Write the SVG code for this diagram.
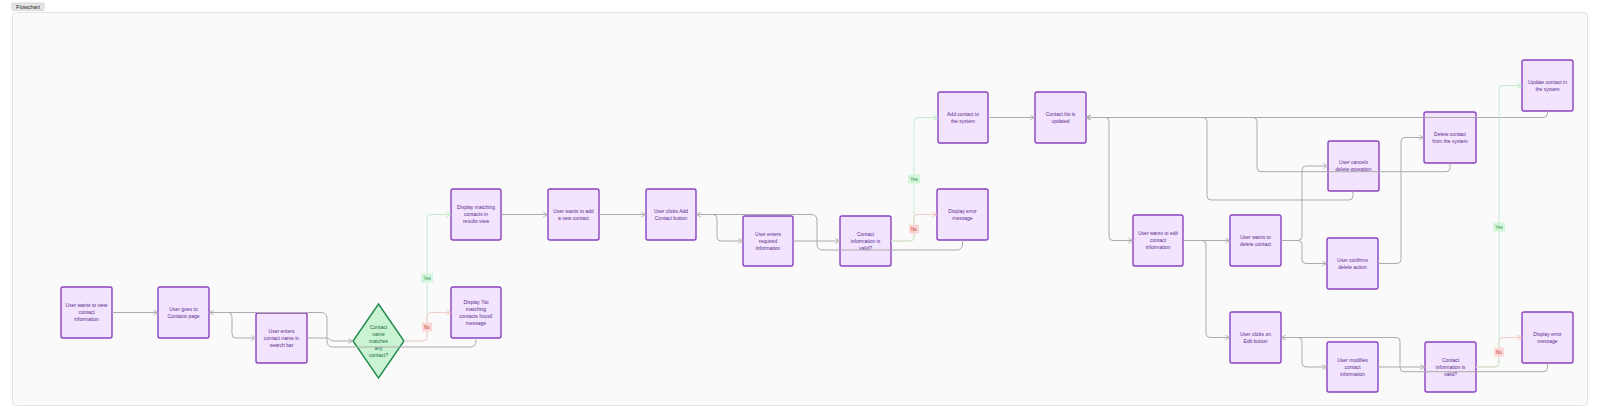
<svg xmlns="http://www.w3.org/2000/svg" width="1599" height="418" viewBox="0 0 1599 418">
<style>
.nd{fill:#f2e4ff;stroke:#8a42bf;stroke-width:1.4}
.dm{fill:#c9f3d2;stroke:#1f8a4c;stroke-width:1.4}
.t{font-family:"Liberation Sans",Arial,sans-serif;font-size:5px;fill:#5a2a8a;text-anchor:middle}
.td{font-family:"Liberation Sans",Arial,sans-serif;font-size:5px;fill:#1a6b3a;text-anchor:middle}
.e{fill:none;stroke:#ababab;stroke-width:1;marker-end:url(#ag)}
.y{fill:none;stroke:#c4ebcd;stroke-width:1;marker-end:url(#ay)}
.n{fill:none;stroke:#f6cdcd;stroke-width:1;marker-end:url(#an)}
.ly{fill:#d3f6da}
.ln{fill:#fbd6d6}
.lt{font-family:"Liberation Sans",Arial,sans-serif;font-size:4.5px;text-anchor:middle}
</style>
<defs>
<marker id="ag" viewBox="0 0 10 10" refX="9" refY="5" markerWidth="6" markerHeight="6" markerUnits="userSpaceOnUse" orient="auto"><path d="M1,1 L9,5 L1,9" fill="none" stroke="#ababab" stroke-width="1.4"/></marker>
<marker id="ay" viewBox="0 0 10 10" refX="9" refY="5" markerWidth="6" markerHeight="6" markerUnits="userSpaceOnUse" orient="auto"><path d="M1,1 L9,5 L1,9" fill="none" stroke="#b6e6c1" stroke-width="1.4"/></marker>
<marker id="an" viewBox="0 0 10 10" refX="9" refY="5" markerWidth="6" markerHeight="6" markerUnits="userSpaceOnUse" orient="auto"><path d="M1,1 L9,5 L1,9" fill="none" stroke="#f3c0c0" stroke-width="1.4"/></marker>
</defs>
<rect width="1599" height="418" fill="#ffffff"/>
<rect x="12.5" y="12.5" width="1575" height="393" rx="4" fill="#fafafa" stroke="#e2e2e2"/>
<rect x="12" y="3" width="32" height="7.5" rx="1" fill="#e6e6e6" stroke="#c6c6c6" stroke-width="0.6"/>
<text x="28" y="8.8" font-family="Liberation Sans,Arial,sans-serif" font-size="5.5" fill="#222" text-anchor="middle">Flowchart</text>

<g id="n1"><rect class="nd" x="61" y="287" width="51" height="51" rx="2"/><text class="t" x="86.5" y="307.3">User wants to view</text><text class="t" x="86.5" y="314.3">contact</text><text class="t" x="86.5" y="321.3">information</text></g>
<g id="n2"><rect class="nd" x="158" y="287" width="51" height="51" rx="2"/><text class="t" x="183.5" y="310.8">User goes to</text><text class="t" x="183.5" y="317.8">Contacts page</text></g>
<g id="n3"><rect class="nd" x="256" y="313" width="51" height="50" rx="2"/><text class="t" x="281.5" y="332.8">User enters</text><text class="t" x="281.5" y="339.8">contact name in</text><text class="t" x="281.5" y="346.8">search bar</text></g>
<g id="d1"><polygon class="dm" points="378.5,304 404,341 378.5,378 353,341"/><text class="td" x="378.5" y="328.8">Contact</text><text class="td" x="378.5" y="335.8">name</text><text class="td" x="378.5" y="342.8">matches</text><text class="td" x="378.5" y="349.8">any</text><text class="td" x="378.5" y="356.8">contact?</text></g>
<g id="n5"><rect class="nd" x="451" y="287" width="50" height="51" rx="2"/><text class="t" x="476" y="303.8">Display 'No</text><text class="t" x="476" y="310.8">matching</text><text class="t" x="476" y="317.8">contacts found'</text><text class="t" x="476" y="324.8">message</text></g>
<g id="n6"><rect class="nd" x="451" y="189" width="50" height="51" rx="2"/><text class="t" x="476" y="209.3">Display matching</text><text class="t" x="476" y="216.3">contacts in</text><text class="t" x="476" y="223.3">results view</text></g>
<g id="n7"><rect class="nd" x="548" y="189" width="51" height="51" rx="2"/><text class="t" x="573.5" y="212.8">User wants to add</text><text class="t" x="573.5" y="219.8">a new contact</text></g>
<g id="n8"><rect class="nd" x="646" y="189" width="50" height="51" rx="2"/><text class="t" x="671" y="212.8">User clicks Add</text><text class="t" x="671" y="219.8">Contact button</text></g>
<g id="n9"><rect class="nd" x="743" y="216" width="50" height="50" rx="2"/><text class="t" x="768" y="235.8">User enters</text><text class="t" x="768" y="242.8">required</text><text class="t" x="768" y="249.8">information</text></g>
<g id="n10"><rect class="nd" x="840" y="216" width="51" height="50" rx="2"/><text class="t" x="865.5" y="235.8">Contact</text><text class="t" x="865.5" y="242.8">information is</text><text class="t" x="865.5" y="249.8">valid?</text></g>
<g id="n11"><rect class="nd" x="937" y="189" width="51" height="51" rx="2"/><text class="t" x="962.5" y="212.8">Display error</text><text class="t" x="962.5" y="219.8">message</text></g>
<g id="n12"><rect class="nd" x="938" y="92" width="50" height="51" rx="2"/><text class="t" x="963" y="115.8">Add contact to</text><text class="t" x="963" y="122.8">the system</text></g>
<g id="n13"><rect class="nd" x="1035" y="92" width="51" height="51" rx="2"/><text class="t" x="1060.5" y="115.8">Contact list is</text><text class="t" x="1060.5" y="122.8">updated</text></g>
<g id="n14"><rect class="nd" x="1133" y="215" width="50" height="51" rx="2"/><text class="t" x="1158" y="235.3">User wants to edit</text><text class="t" x="1158" y="242.3">contact</text><text class="t" x="1158" y="249.3">information</text></g>
<g id="n15"><rect class="nd" x="1230" y="215" width="51" height="51" rx="2"/><text class="t" x="1255.5" y="238.8">User wants to</text><text class="t" x="1255.5" y="245.8">delete contact</text></g>
<g id="n16"><rect class="nd" x="1327" y="238" width="51" height="51" rx="2"/><text class="t" x="1352.5" y="261.8">User confirms</text><text class="t" x="1352.5" y="268.8">delete action</text></g>
<g id="n17"><rect class="nd" x="1328" y="141" width="51" height="50" rx="2"/><text class="t" x="1353.5" y="164.3">User cancels</text><text class="t" x="1353.5" y="171.3">delete operation</text></g>
<g id="n18"><rect class="nd" x="1424" y="112" width="52" height="51" rx="2"/><text class="t" x="1450" y="135.8">Delete contact</text><text class="t" x="1450" y="142.8">from the system</text></g>
<g id="n19"><rect class="nd" x="1522" y="60" width="51" height="51" rx="2"/><text class="t" x="1547.5" y="83.8">Update contact in</text><text class="t" x="1547.5" y="90.8">the system</text></g>
<g id="n20"><rect class="nd" x="1230" y="312" width="51" height="51" rx="2"/><text class="t" x="1255.5" y="335.8">User clicks on</text><text class="t" x="1255.5" y="342.8">Edit button</text></g>
<g id="n21"><rect class="nd" x="1327" y="342" width="51" height="50" rx="2"/><text class="t" x="1352.5" y="361.8">User modifies</text><text class="t" x="1352.5" y="368.8">contact</text><text class="t" x="1352.5" y="375.8">information</text></g>
<g id="n22"><rect class="nd" x="1425" y="342" width="51" height="50" rx="2"/><text class="t" x="1450.5" y="361.8">Contact</text><text class="t" x="1450.5" y="368.8">information is</text><text class="t" x="1450.5" y="375.8">valid?</text></g>
<g id="n23"><rect class="nd" x="1522" y="312" width="51" height="51" rx="2"/><text class="t" x="1547.5" y="335.8">Display error</text><text class="t" x="1547.5" y="342.8">message</text></g>

<g id="connectors">
<path class="e" d="M112,312.5 H158"/>
<path class="e" d="M209,312.5 H228 Q232,312.5 232,316.5 V334 Q232,338 236,338 H256"/>
<path class="e" d="M476,338 V341 Q476,347 470,347 H333 Q327,347 327,341 V318.5 Q327,312.5 321,312.5 H209"/>
<path class="e" d="M307,338 H326 C330,338 330,341 334,341 H353"/>
<path class="y" d="M404,341 H423 Q427,341 427,337 V218.5 Q427,214.5 431,214.5 H451"/>
<path class="n" d="M404,341 H423 Q427,341 427,337 V316.5 Q427,312.5 431,312.5 H451"/>
<path class="e" d="M501,214.5 H548"/>
<path class="e" d="M599,214.5 H646"/>
<path class="e" d="M696,214.5 H713 Q717,214.5 717,218.5 V237 Q717,241 721,241 H743"/>
<path class="e" d="M962.5,240 V244 Q962.5,250 956.5,250 H823 Q817,250 817,244 V220.5 Q817,214.5 811,214.5 H696"/>
<path class="e" d="M793,241 H840"/>
<path class="n" d="M891,241 H910 Q914,241 914,237 V218.5 Q914,214.5 918,214.5 H937"/>
<path class="y" d="M891,241 H910 Q914,241 914,237 V121.5 Q914,117.5 918,117.5 H938"/>
<path class="e" d="M988,117.5 H1035"/>
<path class="e" d="M1086,117.5 H1105 Q1109,117.5 1109,121.5 V236.5 Q1109,240.5 1113,240.5 H1133"/>
<path class="e" d="M1547.5,111 V113.5 Q1547.5,117.5 1543.5,117.5 H1086"/>
<path class="e" d="M1450,163 V167.7 Q1450,171.7 1446,171.7 H1261 Q1257,171.7 1257,167.7 V121.5 Q1257,117.5 1253,117.5 H1086"/>
<path class="e" d="M1353,191 V196 Q1353,200 1349,200 H1211 Q1207,200 1207,196 V121.5 Q1207,117.5 1203,117.5 H1086"/>
<path class="e" d="M1183,240.5 H1230"/>
<path class="e" d="M1183,240.5 H1202 Q1206,240.5 1206,244.5 V333.5 Q1206,337.5 1210,337.5 H1230"/>
<path class="e" d="M1281,240.5 H1298 Q1302,240.5 1302,236.5 V170 Q1302,166 1306,166 H1328"/>
<path class="e" d="M1281,240.5 H1298 Q1302,240.5 1302,244.5 V259.5 Q1302,263.5 1306,263.5 H1327"/>
<path class="e" d="M1378,263.5 H1397 Q1401,263.5 1401,259.5 V141.5 Q1401,137.5 1405,137.5 H1424"/>
<path class="e" d="M1281,337.5 H1298 Q1302,337.5 1302,341.5 V363 Q1302,367 1306,367 H1327"/>
<path class="e" d="M1547.5,363 V367.7 Q1547.5,371.7 1543.5,371.7 H1404 Q1400,371.7 1400,367.7 V341.5 Q1400,337.5 1396,337.5 H1281"/>
<path class="e" d="M1378,367 H1425"/>
<path class="n" d="M1476,367 H1495 Q1499,367 1499,363 V341.5 Q1499,337.5 1503,337.5 H1522"/>
<path class="y" d="M1476,367 H1495 Q1499,367 1499,363 V89.5 Q1499,85.5 1503,85.5 H1522"/>
<rect class="ly" x="421" y="273.5" width="12" height="9"/><text class="lt" x="427" y="279.6" fill="#2a8a44">Yes</text>
<rect class="ln" x="422" y="322.5" width="10" height="9"/><text class="lt" x="427" y="328.6" fill="#c0392b">No</text>
<rect class="ly" x="908" y="174.5" width="12" height="9"/><text class="lt" x="914" y="180.6" fill="#2a8a44">Yes</text>
<rect class="ln" x="909" y="224.5" width="10" height="9"/><text class="lt" x="914" y="230.6" fill="#c0392b">No</text>
<rect class="ly" x="1493" y="222.5" width="12" height="9"/><text class="lt" x="1499" y="228.6" fill="#2a8a44">Yes</text>
<rect class="ln" x="1494" y="347.5" width="10" height="9"/><text class="lt" x="1499" y="353.6" fill="#c0392b">No</text>
</g>
</svg>
